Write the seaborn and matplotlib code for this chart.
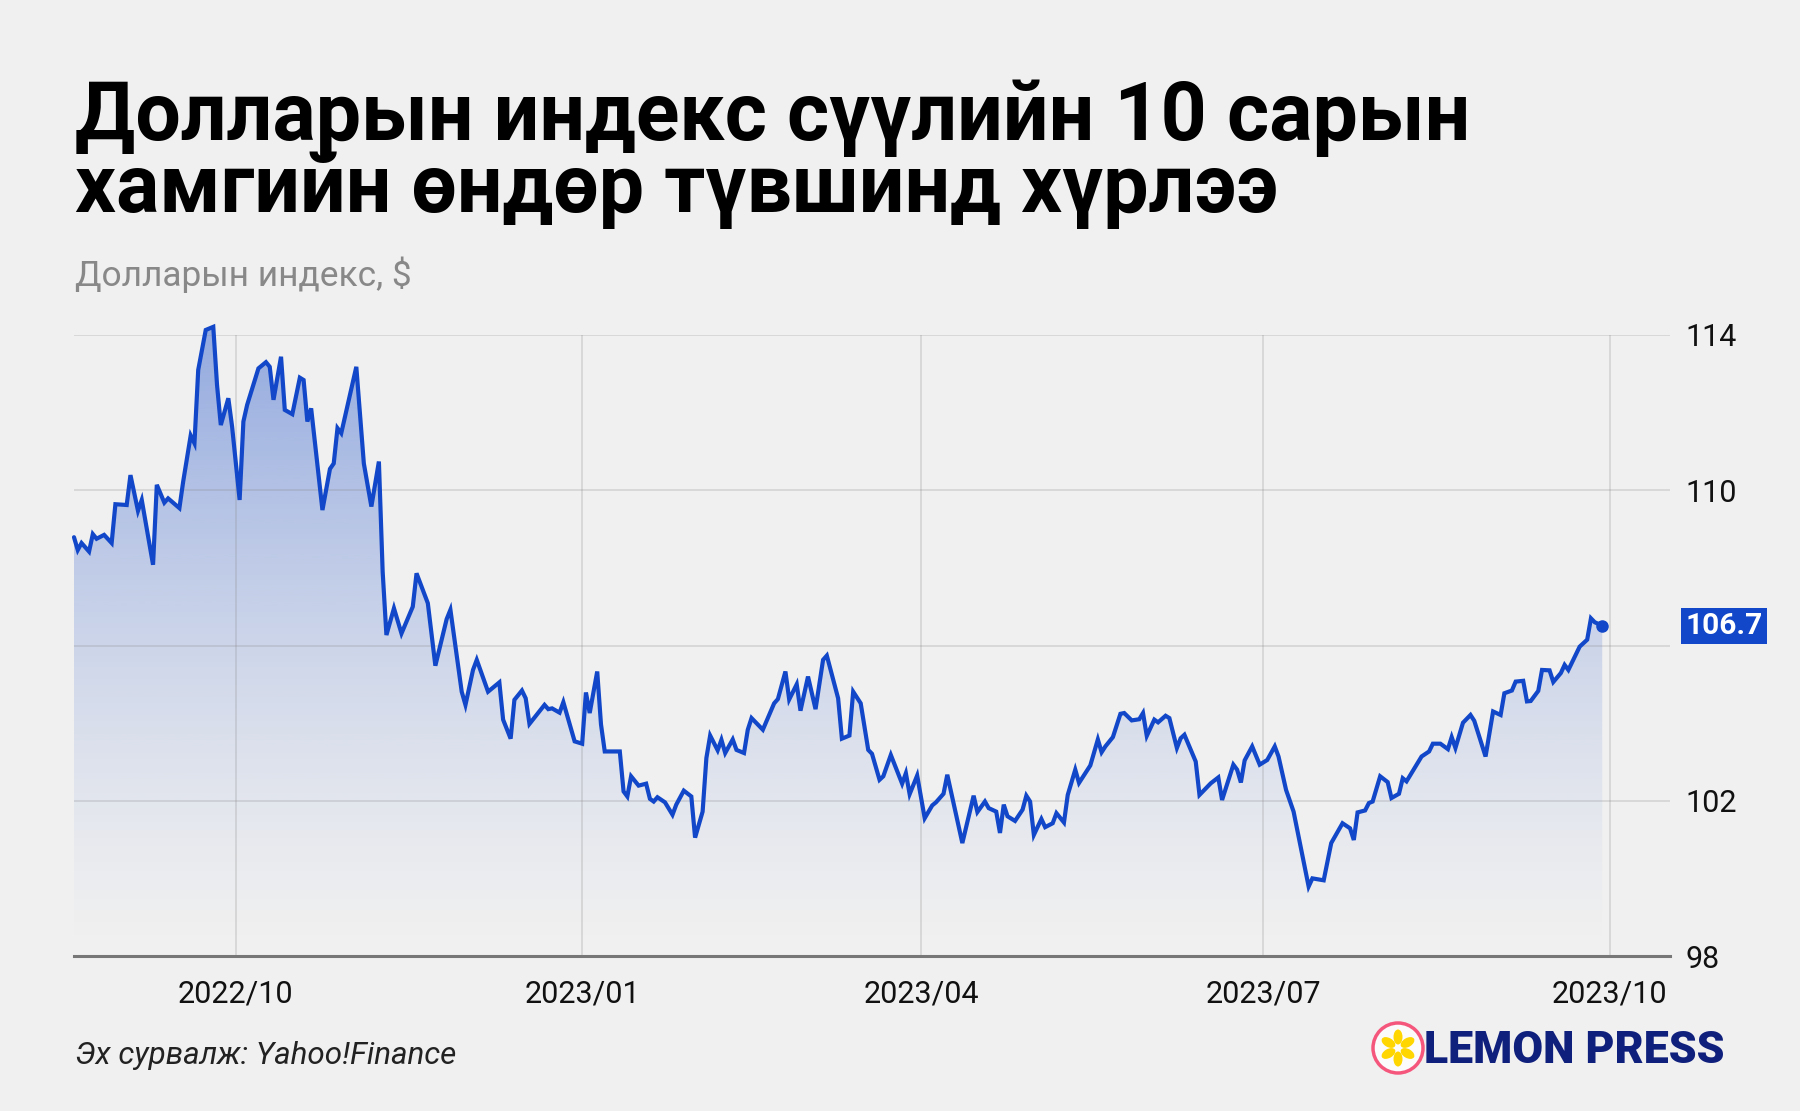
import matplotlib
matplotlib.use("Agg")
import matplotlib.pyplot as plt
import matplotlib.dates as mdates
import matplotlib.transforms as mtransforms
import matplotlib.path as mpath
from matplotlib.colors import to_rgb
from matplotlib.patches import Circle, Ellipse
import numpy as np
import pandas as pd
import seaborn as sns

# ---------------- data ----------------
dates = [
    "2022-08-19", "2022-08-20", "2022-08-21", "2022-08-23", "2022-08-24", "2022-08-25", "2022-08-27", "2022-08-29",
    "2022-08-30", "2022-09-02", "2022-09-03", "2022-09-05", "2022-09-06", "2022-09-09", "2022-09-10", "2022-09-12",
    "2022-09-13", "2022-09-16", "2022-09-17", "2022-09-19", "2022-09-20", "2022-09-21", "2022-09-23", "2022-09-25",
    "2022-09-26", "2022-09-27", "2022-09-29", "2022-09-30", "2022-10-02", "2022-10-03", "2022-10-04", "2022-10-07",
    "2022-10-09", "2022-10-10", "2022-10-11", "2022-10-13", "2022-10-14", "2022-10-16", "2022-10-18", "2022-10-19",
    "2022-10-20", "2022-10-21", "2022-10-24", "2022-10-26", "2022-10-27", "2022-10-28", "2022-10-29", "2022-11-02",
    "2022-11-04", "2022-11-06", "2022-11-08", "2022-11-09", "2022-11-10", "2022-11-12", "2022-11-14", "2022-11-17",
    "2022-11-18", "2022-11-21", "2022-11-23", "2022-11-26", "2022-11-27", "2022-11-30", "2022-12-01", "2022-12-03",
    "2022-12-04", "2022-12-07", "2022-12-10", "2022-12-11", "2022-12-13", "2022-12-14", "2022-12-16", "2022-12-17",
    "2022-12-18", "2022-12-22", "2022-12-23", "2022-12-24", "2022-12-26", "2022-12-27", "2022-12-30", "2023-01-01",
    "2023-01-02", "2023-01-03", "2023-01-05", "2023-01-06", "2023-01-07", "2023-01-11", "2023-01-12", "2023-01-13",
    "2023-01-14", "2023-01-16", "2023-01-18", "2023-01-19", "2023-01-20", "2023-01-21", "2023-01-23", "2023-01-25",
    "2023-01-26", "2023-01-28", "2023-01-30", "2023-01-31", "2023-02-02", "2023-02-03", "2023-02-04", "2023-02-06",
    "2023-02-07", "2023-02-08", "2023-02-10", "2023-02-11", "2023-02-13", "2023-02-14", "2023-02-15", "2023-02-18",
    "2023-02-21", "2023-02-22", "2023-02-24", "2023-02-25", "2023-02-27", "2023-02-28", "2023-03-02", "2023-03-04",
    "2023-03-06", "2023-03-07", "2023-03-10", "2023-03-11", "2023-03-13", "2023-03-14", "2023-03-16", "2023-03-18",
    "2023-03-19", "2023-03-21", "2023-03-22", "2023-03-24", "2023-03-27", "2023-03-28", "2023-03-29", "2023-03-31",
    "2023-04-02", "2023-04-04", "2023-04-05", "2023-04-07", "2023-04-08", "2023-04-12", "2023-04-15", "2023-04-16",
    "2023-04-18", "2023-04-19", "2023-04-21", "2023-04-22", "2023-04-23", "2023-04-24", "2023-04-26", "2023-04-28",
    "2023-04-29", "2023-04-30", "2023-05-01", "2023-05-03", "2023-05-04", "2023-05-06", "2023-05-07", "2023-05-09",
    "2023-05-10", "2023-05-12", "2023-05-13", "2023-05-16", "2023-05-18", "2023-05-19", "2023-05-20", "2023-05-22",
    "2023-05-24", "2023-05-25", "2023-05-27", "2023-05-29", "2023-05-30", "2023-05-31", "2023-06-02", "2023-06-03",
    "2023-06-05", "2023-06-06", "2023-06-08", "2023-06-09", "2023-06-10", "2023-06-13", "2023-06-14", "2023-06-17",
    "2023-06-19", "2023-06-20", "2023-06-23", "2023-06-24", "2023-06-25", "2023-06-26", "2023-06-28", "2023-06-30",
    "2023-07-02", "2023-07-04", "2023-07-05", "2023-07-07", "2023-07-09", "2023-07-13", "2023-07-14", "2023-07-17",
    "2023-07-19", "2023-07-22", "2023-07-24", "2023-07-25", "2023-07-26", "2023-07-28", "2023-07-29", "2023-07-30",
    "2023-08-01", "2023-08-03", "2023-08-04", "2023-08-06", "2023-08-07", "2023-08-08", "2023-08-12", "2023-08-14",
    "2023-08-15", "2023-08-17", "2023-08-19", "2023-08-20", "2023-08-21", "2023-08-23", "2023-08-25", "2023-08-26",
    "2023-08-29", "2023-08-31", "2023-09-02", "2023-09-03", "2023-09-05", "2023-09-06", "2023-09-08", "2023-09-09",
    "2023-09-10", "2023-09-12", "2023-09-13", "2023-09-15", "2023-09-16", "2023-09-18", "2023-09-19", "2023-09-20",
    "2023-09-23", "2023-09-25", "2023-09-26", "2023-09-27", "2023-09-29",
]
values = [
    108.79, 108.46, 108.64, 108.42, 108.87, 108.75, 108.85, 108.64,
    109.64, 109.62, 110.39, 109.47, 109.75, 108.08, 110.14, 109.68,
    109.79, 109.54, 110.22, 111.41, 111.21, 113.10, 114.13, 114.21,
    112.71, 111.68, 112.37, 111.64, 109.75, 111.77, 112.20, 113.14,
    113.30, 113.18, 112.33, 113.44, 112.07, 111.96, 112.90, 112.84,
    111.77, 112.11, 109.49, 110.55, 110.69, 111.60, 111.47, 113.18,
    110.69, 109.58, 110.74, 107.90, 106.27, 106.96, 106.31, 107.00,
    107.86, 107.09, 105.48, 106.68, 106.92, 104.81, 104.47, 105.37,
    105.63, 104.81, 105.05, 104.09, 103.60, 104.60, 104.84, 104.64,
    103.98, 104.47, 104.36, 104.38, 104.27, 104.54, 103.53, 103.47,
    104.79, 104.26, 105.33, 103.97, 103.27, 103.27, 102.24, 102.11,
    102.63, 102.39, 102.44, 102.05, 101.98, 102.09, 101.96, 101.64,
    101.90, 102.26, 102.11, 101.05, 101.72, 103.10, 103.68, 103.30,
    103.57, 103.23, 103.58, 103.31, 103.23, 103.83, 104.13, 103.83,
    104.51, 104.62, 105.33, 104.61, 105.00, 104.32, 105.20, 104.36,
    105.63, 105.74, 104.64, 103.60, 103.68, 104.81, 104.51, 103.31,
    103.21, 102.54, 102.63, 103.18, 102.44, 102.71, 102.17, 102.65,
    101.55, 101.88, 101.96, 102.18, 102.67, 100.91, 102.13, 101.71,
    101.98, 101.81, 101.72, 101.17, 101.90, 101.60, 101.48, 101.77,
    102.13, 101.98, 101.12, 101.53, 101.32, 101.42, 101.68, 101.44,
    102.15, 102.80, 102.46, 102.91, 103.58, 103.25, 103.40, 103.64,
    104.24, 104.26, 104.07, 104.10, 104.26, 103.67, 104.09, 104.02,
    104.19, 104.13, 103.36, 103.61, 103.70, 103.01, 102.15, 102.45,
    102.60, 102.02, 102.93, 102.80, 102.47, 103.04, 103.40, 102.93,
    103.05, 103.40, 103.14, 102.28, 101.72, 99.79, 100.00, 99.95,
    100.91, 101.42, 101.29, 100.99, 101.70, 101.75, 101.94, 101.98,
    102.63, 102.48, 102.07, 102.18, 102.58, 102.50, 103.14, 103.27,
    103.47, 103.47, 103.33, 103.64, 103.36, 104.01, 104.21, 104.06,
    103.14, 104.30, 104.21, 104.77, 104.84, 105.07, 105.09, 104.56,
    104.57, 104.83, 105.37, 105.36, 105.06, 105.29, 105.50, 105.37,
    105.97, 106.15, 106.70, 106.60, 106.51,
]
month_ticks = ["2022-10-01", "2023-01-01", "2023-04-01", "2023-07-01", "2023-10-01"]
month_labels = ["2022/10", "2023/01", "2023/04", "2023/07", "2023/10"]
y_ticks = [98, 102, 106, 110, 114]
y_labels = ["98", "102", "", "110", "114"]
last_label = "106.7"
x_range = ["2022-08-19", "2023-10-17"]
y_range = [98, 114]

title_lines = ["Долларын индекс сүүлийн 10 сарын", "хамгийн өндөр түвшинд хүрлээ"]
subtitle = "Долларын индекс, $"
source = "Эх сурвалж: Yahoo!Finance"
brand = "LEMON PRESS"

# ---------------- style ----------------
sns.set_theme(style="white")
plt.rcParams['font.family'] = ['Roboto', 'DejaVu Sans']

BG = '#f0f0f0'
BLUE = '#1147c8'
W, H = 1800, 1111

df = pd.DataFrame({'date': pd.to_datetime(dates), 'value': values})

fig = plt.figure(figsize=(W / 100, H / 100), dpi=100, facecolor=BG)
ax = fig.add_axes([74 / W, 1 - 956 / H, (1670 - 74) / W, (956 - 335) / H])
ax.set_facecolor(BG)

sns.lineplot(data=df, x='date', y='value', ax=ax, color=BLUE, lw=3.0,
             clip_on=False, zorder=3, solid_joinstyle='miter')

# gradient area under the line
xn = mdates.date2num(df['date'])
yv = df['value'].to_numpy()
verts = np.column_stack([np.r_[xn, xn[::-1]], np.r_[yv, np.full(len(xn), y_range[0])]])
clip_path = mpath.Path(verts, closed=False)
grad = np.zeros((256, 1, 4))
grad[..., :3] = to_rgb(BLUE)
top = 114.6
grad[:, 0, 3] = 0.43 * np.linspace(0, 1, 256) ** 1.35
im = ax.imshow(grad, extent=[xn[0], xn[-1], y_range[0], top], origin='lower',
               aspect='auto', interpolation='bicubic', zorder=0.3)
im.set_clip_path(clip_path, ax.transData)
im.set_clip_box(mtransforms.TransformedBbox(
    mtransforms.Bbox([[xn[0] - 1, y_range[0] - 0.1], [xn[-1] + 1, top + 0.2]]), ax.transData))

# end dot + label
ax.plot(df['date'].iloc[-1], yv[-1], 'o', color=BLUE, ms=8, clip_on=False, zorder=4)
blend = mtransforms.blended_transform_factory(ax.transAxes, ax.transData)
ax.text(1.0098, yv[-1], last_label, transform=blend, ha='left', va='center',
        color='white', fontsize=21.5, fontweight='bold',
        bbox=dict(boxstyle='square,pad=0.14', fc=BLUE, ec='none'))

ax.set_xlim(pd.Timestamp(x_range[0]), pd.Timestamp(x_range[1]))
ax.set_ylim(*y_range)

ax.set_xticks(pd.to_datetime(month_ticks))
ax.set_xticklabels(month_labels)
ax.set_yticks(y_ticks)
ax.set_yticklabels(y_labels)
ax.yaxis.tick_right()
ax.tick_params(axis='x', length=0, pad=17, labelsize=22, labelcolor='#111111')
ax.tick_params(axis='y', length=0, pad=11, labelsize=22, labelcolor='#111111')
ax.set_xlabel('')
ax.set_ylabel('')

ax.grid(True, color='#8a8a8a', alpha=0.3, lw=1.1)
ax.set_axisbelow(True)
for s in ['top', 'left', 'right']:
    ax.spines[s].set_visible(False)
ax.spines['bottom'].set_color('#777777')
ax.spines['bottom'].set_linewidth(2.2)
ax.spines['bottom'].set_zorder(5)

# ---------------- texts ----------------
fig.text(75 / W, 1 - 140 / H, title_lines[0], fontsize=58.1, fontweight='bold',
         color='#000000', va='baseline', ha='left')
fig.text(75 / W, 1 - 212 / H, title_lines[1], fontsize=58.1, fontweight='bold',
         color='#000000', va='baseline', ha='left')
fig.text(75 / W, 1 - 286 / H, subtitle, fontsize=25.4, color='#888888',
         va='baseline', ha='left')
fig.text(75 / W, 1 - 1064 / H, source, fontsize=22.6, style='italic',
         color='#222222', va='baseline', ha='left')

# brand logo
fig.text(1424 / W, 1 - 1063 / H, brand, fontsize=32.2, fontweight='black',
         color='#0f1f7c', va='baseline', ha='left')
idt = mtransforms.IdentityTransform()
cx, cy = 1398, H - 1048
fig.add_artist(Circle((cx, cy), 25, transform=idt, fc='#fbfbfb', ec='#f5577c', lw=2.5))
for k in range(6):
    ang = np.deg2rad(90 + k * 60)
    fig.add_artist(Ellipse((cx + 11 * np.cos(ang), cy + 11 * np.sin(ang)), 15, 9,
                           angle=np.rad2deg(ang), transform=idt, fc='#ffd600', ec='none'))

fig.savefig('out.png', dpi=100, facecolor=BG)
